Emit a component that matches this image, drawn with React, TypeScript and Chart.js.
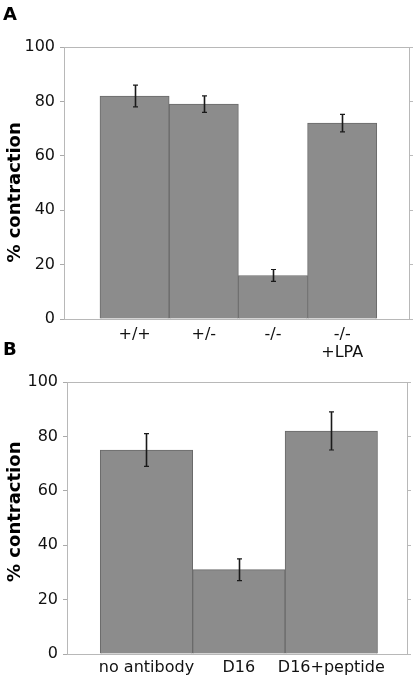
import React, { useEffect, useRef } from 'react';
import { Chart, registerables } from 'chart.js';

Chart.register(...registerables);

// ---- data ----
const categoriesA: (string | string[])[] = ['+/+', '+/-', '-/-', ['-/-', '+LPA']];
const valuesA = [82, 79, 16, 72];
const errorsA = [4, 3, 2.2, 3.2];

const categoriesB: (string | string[])[] = ['no antibody', 'D16', 'D16+peptide'];
const valuesB = [75, 31, 82];
const errorsB = [6, 4, 7];

const yTicks = [0, 20, 40, 60, 80, 100];
const yTitle = '% contraction';

const FONT = 'DejaVu Sans';

const boxPlugin = {
  id: 'boxPlugin',
  beforeDatasetsDraw(chart: any) {
    const { ctx, chartArea } = chart;
    ctx.save();
    ctx.strokeStyle = '#b8b8b8';
    ctx.lineWidth = 1;
    ctx.strokeRect(
      Math.round(chartArea.left) + 0.5,
      Math.round(chartArea.top) + 0.5,
      Math.round(chartArea.right - chartArea.left) - 1,
      Math.round(chartArea.bottom - chartArea.top)
    );
    ctx.restore();
  },
};

const errorPlugin = {
  id: 'errorPlugin',
  afterDatasetsDraw(chart: any) {
    const { ctx } = chart;
    const yScale = chart.scales.y;
    chart.data.datasets.forEach((ds: any, di: number) => {
      const meta = chart.getDatasetMeta(di);
      const errs: number[] = ds.errors || [];
      meta.data.forEach((el: any, i: number) => {
        const v = ds.data[i].y;
        const e = errs[i];
        if (e == null) return;
        const x = Math.round(el.x) + 0.5;
        const yTop = yScale.getPixelForValue(v + e);
        const yBot = yScale.getPixelForValue(v - e);
        ctx.save();
        ctx.strokeStyle = '#1a1a1a';
        ctx.lineWidth = 1.6;
        ctx.beginPath();
        ctx.moveTo(x, yTop);
        ctx.lineTo(x, yBot);
        ctx.stroke();
        ctx.lineWidth = 1.2;
        ctx.beginPath();
        ctx.moveTo(x - 2.5, yTop);
        ctx.lineTo(x + 2.5, yTop);
        ctx.moveTo(x - 2.5, yBot);
        ctx.lineTo(x + 2.5, yBot);
        ctx.stroke();
        ctx.restore();
      });
    });
  },
};

type PanelProps = {
  top: number;
  height: number;
  cats: (string | string[])[];
  vals: number[];
  errs: number[];
  xMin: number;
  xMax: number;
  padTop: number;
  yWidth: number;
  rightWidth: number;
  xHeight: number;
  xPad: number;
  title: string;
};

function Panel(p: PanelProps) {
  const ref = useRef<HTMLCanvasElement | null>(null);
  useEffect(() => {
    if (!ref.current) return;
    const chart = new Chart(ref.current, {
      type: 'bar',
      data: {
        datasets: [
          {
            data: p.vals.map((v, i) => ({ x: i, y: v })),
            errors: p.errs,
            backgroundColor: '#8c8c8c',
            borderColor: '#6a6a6a',
            borderWidth: 1,
            categoryPercentage: 1,
            barPercentage: 1,
          } as any,
        ],
      },
      options: {
        animation: false,
        responsive: false,
        devicePixelRatio: 1,
        layout: { padding: { top: p.padTop, left: 0, right: 0, bottom: 0 } },
        plugins: { legend: { display: false }, tooltip: { enabled: false } },
        scales: {
          x: {
            type: 'linear',
            offset: false,
            min: p.xMin,
            max: p.xMax,
            grid: { display: false, drawTicks: false },
            border: { display: false },
            afterBuildTicks: (s: any) => {
              s.ticks = p.cats.map((_, i) => ({ value: i }));
            },
            afterFit: (s: any) => {
              s.height = p.xHeight;
            },
            ticks: {
              autoSkip: false,
              maxRotation: 0,
              padding: p.xPad,
              color: '#111',
              font: { family: FONT, size: 16, lineHeight: 1.1 },
              callback: (v: any) => p.cats[v as number] as any,
            },
          },
          y: {
            position: 'left',
            min: 0,
            max: 100,
            afterBuildTicks: (s: any) => {
              s.ticks = yTicks.map((v) => ({ value: v }));
            },
            afterFit: (s: any) => {
              s.width = p.yWidth;
            },
            grid: { drawOnChartArea: false, drawTicks: true, tickLength: 4, color: '#aaaaaa' },
            border: { display: false },
            ticks: {
              padding: 5,
              color: '#111',
              font: { family: FONT, size: 16 },
            },
            title: {
              display: true,
              text: p.title,
              color: '#000',
              padding: { top: 5, bottom: 0 },
              font: { family: FONT, size: 18, weight: 'bold' },
            },
          },
          y2: {
            position: 'right',
            display: true,
            min: 0,
            max: 100,
            afterBuildTicks: (s: any) => {
              s.ticks = yTicks.map((v) => ({ value: v }));
            },
            afterFit: (s: any) => {
              s.width = p.rightWidth;
            },
            grid: { drawOnChartArea: false, drawTicks: true, tickLength: 3, color: '#bbbbbb' },
            border: { display: false },
            ticks: { display: false },
          },
        },
      } as any,
      plugins: [boxPlugin, errorPlugin],
    });
    return () => chart.destroy();
  }, []);
  return (
    <canvas
      ref={ref}
      width={413}
      height={p.height}
      style={{ position: 'absolute', left: 0, top: p.top, width: 413, height: p.height }}
    />
  );
}

const letterStyle: React.CSSProperties = {
  position: 'absolute',
  left: 3,
  fontFamily: FONT,
  fontWeight: 'bold',
  fontSize: 18,
  lineHeight: '18px',
  color: '#000',
};

export default function App() {
  return (
    <div style={{ position: 'absolute', left: 0, top: 0, width: 413, height: 679, background: '#fff', overflow: 'hidden' }}>
      <Panel
        top={0}
        height={372}
        cats={categoriesA}
        vals={valuesA}
        errs={errorsA}
        xMin={-1.02}
        xMax={3.98}
        padTop={47}
        yWidth={64}
        rightWidth={3}
        xHeight={53}
        xPad={7}
        title={yTitle + '   '}
      />
      <Panel
        top={340}
        height={339}
        cats={categoriesB}
        vals={valuesB}
        errs={errorsB}
        xMin={-0.86}
        xMax={2.83}
        padTop={42}
        yWidth={67}
        rightWidth={5}
        xHeight={25}
        xPad={5}
        title={'  ' + yTitle}
      />
      <div style={{ ...letterStyle, top: 5 }}>A</div>
      <div style={{ ...letterStyle, top: 340 }}>B</div>
    </div>
  );
}
